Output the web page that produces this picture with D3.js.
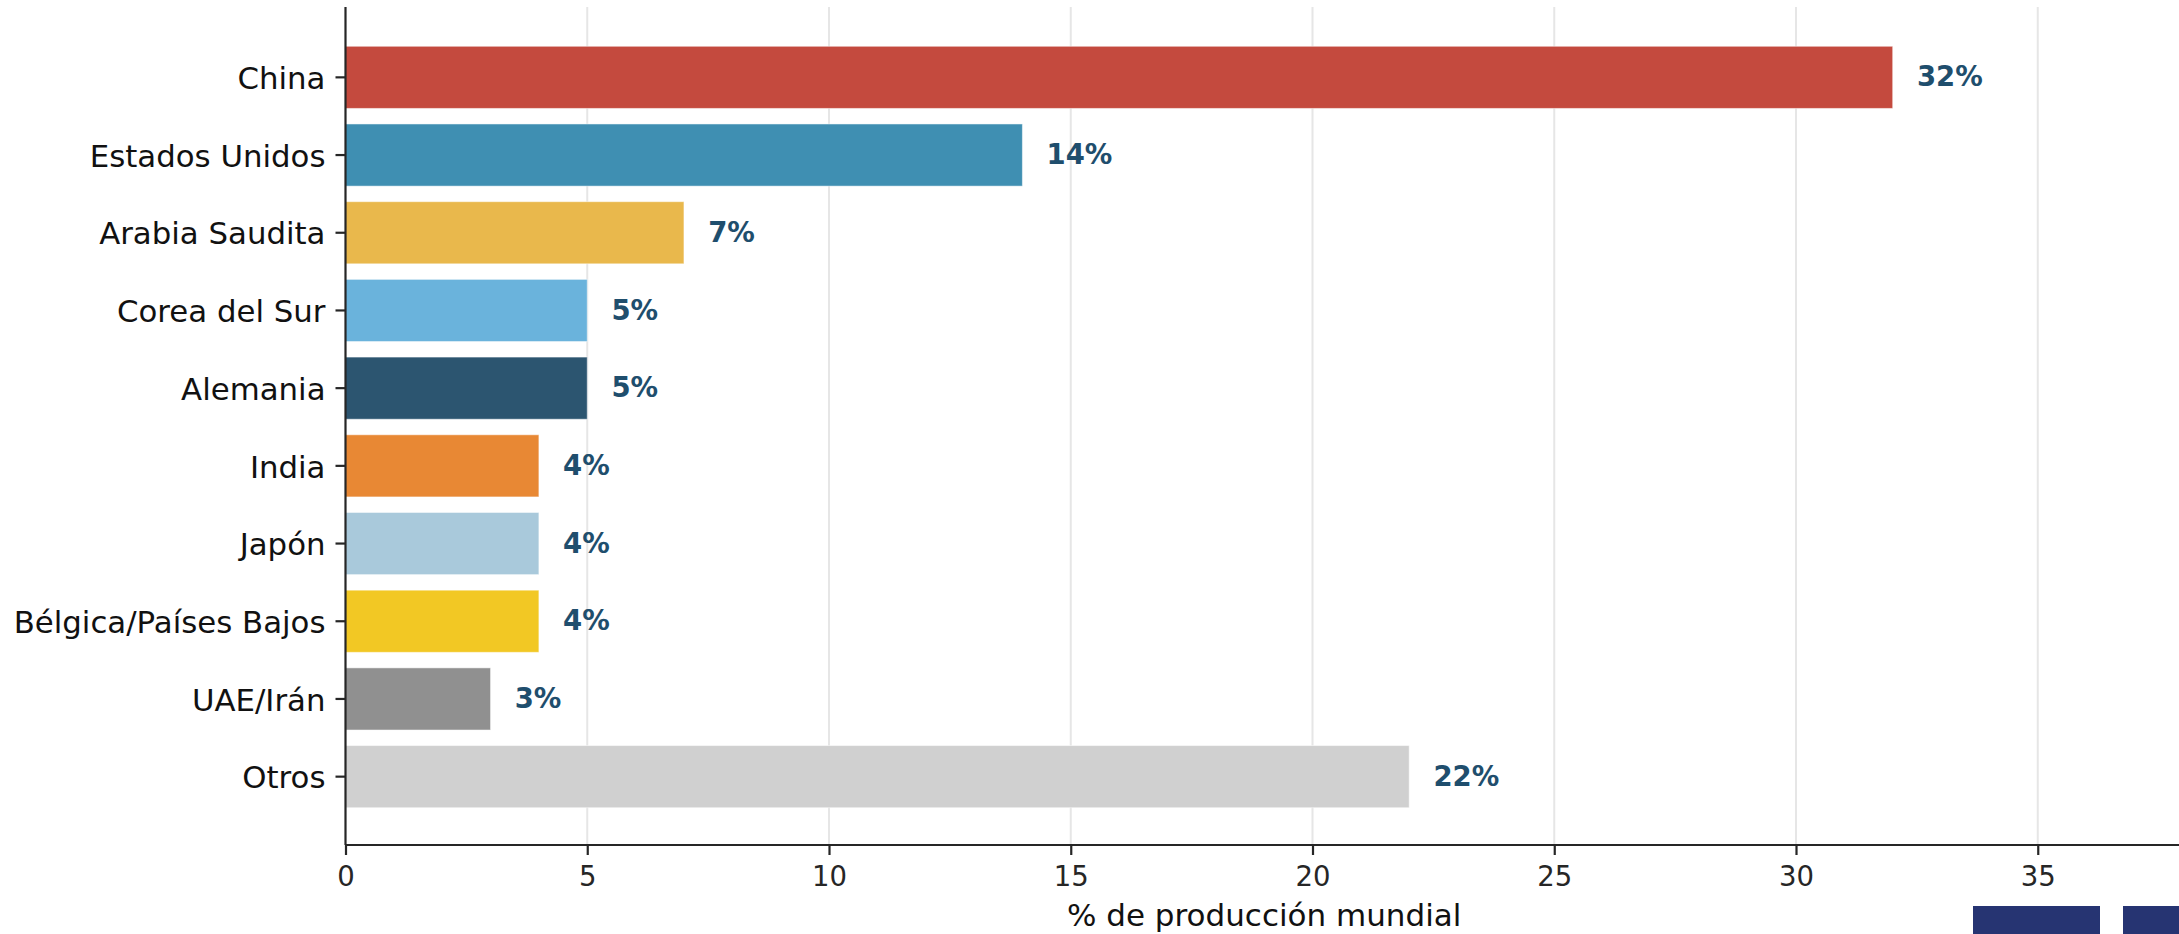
<!DOCTYPE html>
<html>
<head>
<meta charset="utf-8">
<script src="https://cdn.jsdelivr.net/npm/d3@7"></script>
<style>
  body { margin: 0; background: #fff; }
  svg { display: block; font-family: "DejaVu Sans", sans-serif; }
</style>
</head>
<body>
<div id="chart"></div>
<script>
// data
var countries = ["China", "Estados Unidos", "Arabia Saudita", "Corea del Sur", "Alemania",
                 "India", "Japón", "Bélgica/Países Bajos", "UAE/Irán", "Otros"];
var shares = [32, 14, 7, 5, 5, 4, 4, 4, 3, 22];
var barColors = ["#c44a3e", "#3f8fb2", "#e9b84c", "#6ab3dc", "#2c5570",
                 "#e88834", "#a9c9db", "#f2c824", "#909090", "#d0d0d0"];
var xTicks = [0, 5, 10, 15, 20, 25, 30, 35];

var W = 2179, H = 934;
var margin = {left: 345.5, top: 7, bottom: 845};
var _ink = "#262626";

var svg = d3.select("#chart").append("svg")
    .attr("width", W)
    .attr("height", H);

var x = d3.scaleLinear()
    .domain([0, 38])
    .range([margin.left, margin.left + 38 * 48.35]);

var y = d3.scaleBand()
    .domain(countries)
    .range([38.5, 815.5])
    .paddingInner(0.2)
    .paddingOuter(0.1);

// grid lines
svg.append("g")
    .selectAll("line")
    .data(xTicks.slice(1))
    .join("line")
    .attr("x1", d => x(d))
    .attr("x2", d => x(d))
    .attr("y1", margin.top)
    .attr("y2", margin.bottom)
    .attr("stroke", "#e6e6e6")
    .attr("stroke-width", 2);

// bars
svg.append("g")
    .selectAll("rect")
    .data(shares)
    .join("rect")
    .attr("x", x(0))
    .attr("y", (d, i) => y(countries[i]))
    .attr("width", d => x(d) - x(0))
    .attr("height", y.bandwidth())
    .attr("fill", (d, i) => barColors[i])
    .attr("stroke", "#ffffff")
    .attr("stroke-opacity", 0.5)
    .attr("stroke-width", 1);

// value labels
svg.append("g")
    .selectAll("text")
    .data(shares)
    .join("text")
    .attr("x", d => x(d + 0.5))
    .attr("y", (d, i) => y(countries[i]) + y.bandwidth() / 2)
    .attr("dy", "0.33em")
    .style("font-size", "27.5px")
    .style("font-weight", "bold")
    .style("fill", "#1f4e6d")
    .text(d => d + "%");

// x axis
var xAxis = svg.append("g")
    .attr("transform", "translate(0," + margin.bottom + ")")
    .call(d3.axisBottom(x).tickValues(xTicks).tickSize(10).tickPadding(11).tickFormat(d3.format("d")));
xAxis.select(".domain").attr("stroke", _ink).attr("stroke-width", 2.2)
    .attr("d", "M" + x(0) + ",0H" + (W + 10));
xAxis.selectAll(".tick line").attr("stroke", _ink).attr("stroke-width", 2.2);
xAxis.selectAll(".tick text").style("font-size", "27.5px").style("fill", _ink)
    .style("font-family", "DejaVu Sans");

// y axis
var yAxis = svg.append("g")
    .attr("transform", "translate(" + margin.left + ",0)")
    .call(d3.axisLeft(y).tickSize(10).tickPadding(10));
yAxis.select(".domain").attr("stroke", _ink).attr("stroke-width", 2.2)
    .attr("d", "M0," + margin.top + "V" + margin.bottom);
yAxis.selectAll(".tick line").attr("stroke", _ink).attr("stroke-width", 2.2);
yAxis.selectAll(".tick text").style("font-size", "30.8px").style("fill", "#111")
    .style("font-family", "DejaVu Sans").attr("dy", "0.38em");

// x axis title
svg.append("text")
    .attr("x", x(19))
    .attr("y", 926)
    .attr("text-anchor", "middle")
    .style("font-size", "31px")
    .style("fill", "#111")
    .text("% de producción mundial");

// cropped logo blocks at bottom right
svg.append("rect").attr("x", 1973).attr("y", 906).attr("width", 127).attr("height", 30).attr("fill", "#263472");
svg.append("rect").attr("x", 2123).attr("y", 906).attr("width", 60).attr("height", 30).attr("fill", "#263472");
</script>
</body>
</html>
